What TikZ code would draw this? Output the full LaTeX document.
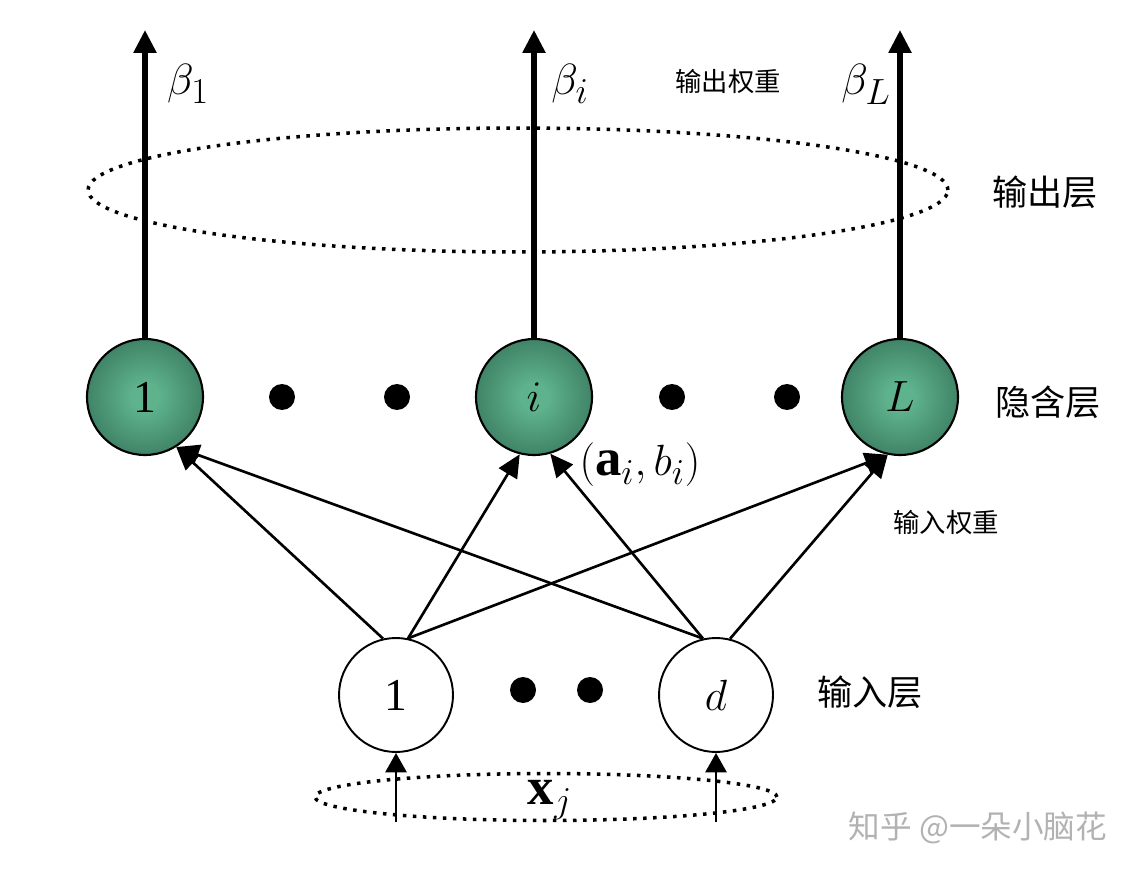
\documentclass[tikz,border=0pt]{standalone}
\usepackage{fontspec}
\setmainfont{Liberation Serif}
\newfontfamily\cjk{Noto Sans CJK SC}
\usetikzlibrary{arrows.meta,shapes.geometric}

\definecolor{hidin}{RGB}{94,178,140}
\definecolor{hidout}{RGB}{28,76,58}
\definecolor{markgray}{RGB}{178,178,178}
\pgfdeclareradialshading{hidshade}{\pgfpoint{0bp}{0bp}}{color(0bp)=(hidin); color(6bp)=(hidin); color(48bp)=(hidout); color(100bp)=(hidout)}

\tikzstyle{every node}=[font=\normalsize]
\tikzstyle{hidden}=[circle, draw, line width=1.2pt, minimum size=2.32cm, inner sep=0pt, shading=hidshade, font=\fontsize{26}{30}\selectfont]
\tikzstyle{input}=[circle, draw, line width=1.1pt, fill=white, minimum size=2.28cm, inner sep=0pt, font=\fontsize{26}{30}\selectfont]
\tikzstyle{dot}=[circle, fill=black, minimum size=0.52cm, inner sep=0pt]
\tikzstyle{layer}=[ellipse, draw, line width=2pt, dash pattern=on 2pt off 3.7pt, inner sep=0pt]
\tikzstyle{outarrow}=[line width=3pt, -{Triangle[width=12.5pt,length=13pt]}]
\tikzstyle{wtarrow}=[line width=1.5pt, -{Triangle[width=12pt,length=13pt]}]
\tikzstyle{inarrow}=[line width=1.3pt, -{Triangle[width=12pt,length=11pt]}]
\tikzstyle{sym}=[font=\fontsize{30}{34}\selectfont]
\tikzstyle{cjkbig}=[font=\cjk\fontsize{20}{24}\selectfont]
\tikzstyle{cjksmall}=[font=\cjk\fontsize{15}{18}\selectfont]

\begin{document}
\begin{tikzpicture}[x=0.02cm, y=-0.02cm]
            \useasboundingbox (0,0) rectangle (1148,874);

            % 输出层
            \node[layer, minimum width=17.2cm, minimum height=2.48cm] (outlayer) at (518,190) {};
            \node[cjkbig] (outname) at (1045,192) {输出层};

            % 隐含层
            \node[hidden] (h1) at (145,397) {1};
            \node[hidden] (hi) at (534,397) {$i$};
            \node[hidden] (hL) at (900,397) {$L$};
            \node[dot] (hdot1) at (282,397) {};
            \node[dot] (hdot2) at (397,397) {};
            \node[dot] (hdot3) at (672,397) {};
            \node[dot] (hdot4) at (787,397) {};
            \node[cjkbig] (hidname) at (1048,402) {隐含层};
            \node[sym] (ab) at (640,465) {$(\mathbf{a}_i,b_i)$};

            % 输出权重
            \coordinate (b1) at (145,30);
            \coordinate (bi) at (534,30);
            \coordinate (bL) at (900,30);
            \draw[outarrow] (h1.north) -- (b1);
            \draw[outarrow] (hi.north) -- (bi);
            \draw[outarrow] (hL.north) -- (bL);
            \node[sym] (beta1) at (188,84) {$\beta_1$};
            \node[sym] (betai) at (570,84) {$\beta_i$};
            \node[sym] (betaL) at (866,84) {$\beta_L$};
            \node[cjksmall] (outw) at (728,82) {输出权重};

            % 输入层
            \node[input] (x1) at (396,695) {1};
            \node[input] (xd) at (716,695) {$d$};
            \node[dot] (xdot1) at (523,690) {};
            \node[dot] (xdot2) at (590,690) {};
            \node[cjkbig] (inname) at (870,692) {输入层};

            % 输入权重
            \draw[wtarrow] (x1.103) -- (h1.-58);
            \draw[wtarrow] (x1.78) -- (hi.-104);
            \draw[wtarrow] (x1.78) -- (hL.-102);
            \draw[wtarrow] (xd.103) -- (h1.-58);
            \draw[wtarrow] (xd.103) -- (hi.-74);
            \draw[wtarrow] (xd.76) -- (hL.-102);
            \node[cjksmall] (inw) at (946,523) {输入权重};

            % 输入样本
            \node[layer, minimum width=9.24cm, minimum height=0.94cm] (inlayer) at (546,797) {};
            \coordinate (in1) at (396,822);
            \coordinate (ind) at (716,822);
            \draw[inarrow] (in1) -- (x1.south);
            \draw[inarrow] (ind) -- (xd.south);
            \node[sym] (xj) at (550,800) {$\mathbf{x}_j$};

            % 水印
            \node[font=\cjk\fontsize{18}{22}\selectfont, text=markgray] (mark) at (978,828) {知乎 @一朵小脑花};
        \end{tikzpicture}
\end{document}
